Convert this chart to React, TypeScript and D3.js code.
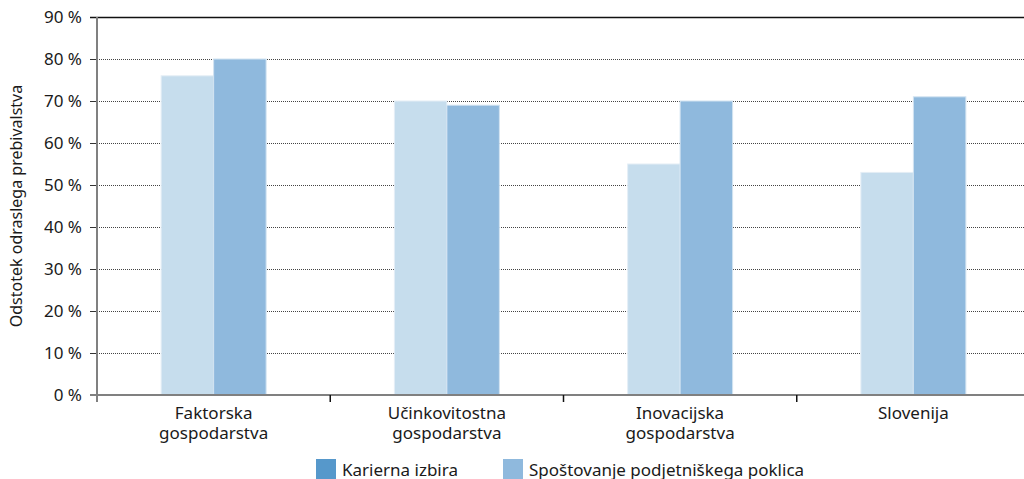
import React from "react";
import * as d3 from "d3";

const categories: string[][] = [
  ["Faktorska", "gospodarstva"],
  ["Učinkovitostna", "gospodarstva"],
  ["Inovacijska", "gospodarstva"],
  ["Slovenija"],
];
const seriesLight: number[] = [76, 70, 55, 53];
const seriesDark: number[] = [80, 69, 70, 71];
const yTicks: number[] = [0, 10, 20, 30, 40, 50, 60, 70, 80, 90];
const legendLabels: string[] = ["Karierna izbira", "Spoštovanje podjetniškega poklica"];
const legendColors: string[] = ["#5698CB", "#8FB9DD"];
const yTitle = "Odstotek odraslega prebivalstva";

const W = 1024;
const H = 479;
const left = 97;
const right = 1030;
const top = 17;
const bottom = 395;
const FONT = "'Noto Sans', 'Open Sans', sans-serif";

export default function App() {
  const x = d3.scaleBand<number>().domain(d3.range(categories.length)).range([left, right]);
  const y = d3.scaleLinear().domain([0, 90]).range([bottom, top]);
  const bw = x.bandwidth();
  const barW = bw * 0.225;

  return (
    <svg width={W} height={H} style={{ position: "absolute", left: 0, top: 0 }} fontFamily={FONT}>
      {/* gridlines */}
      {yTicks.map((t) => (
        <g key={t}>
          {t > 0 && t < 90 && (
            <line x1={left} x2={W} y1={y(t) + 0.5} y2={y(t) + 0.5} stroke="#444" strokeWidth={1} strokeDasharray="1,1" />
          )}
          <line x1={90} x2={left} y1={y(t) + 0.5} y2={y(t) + 0.5} stroke="#333" strokeWidth={1} />
          <text x={82} y={y(t)} dy="0.35em" textAnchor="end" fontSize={17} fill="#1a1a1a">
            {t} %
          </text>
        </g>
      ))}
      <line x1={90} x2={W} y1={y(90) + 0.5} y2={y(90) + 0.5} stroke="#111" strokeWidth={1.5} />
      {/* bars */}
      {categories.map((_, i) => {
        const cx = (x(i) as number) + bw / 2;
        return (
          <g key={i}>
            <rect x={cx - barW} y={y(seriesLight[i])} width={barW} height={bottom - y(seriesLight[i])} fill="#C6DDED" stroke="#E4EEF6" strokeWidth={1} />
            <rect x={cx} y={y(seriesDark[i])} width={barW} height={bottom - y(seriesDark[i])} fill="#8FB9DD" stroke="#D2E3F1" strokeWidth={1} />
          </g>
        );
      })}
      {/* axes */}
      <line x1={left} x2={left} y1={top} y2={bottom + 7} stroke="#808080" strokeWidth={2} />
      <line x1={90} x2={W} y1={bottom} y2={bottom} stroke="#808080" strokeWidth={2} />
      {categories.map((_, i) =>
        i > 0 ? (
          <line key={i} x1={(x(i) as number)} x2={(x(i) as number)} y1={bottom} y2={bottom + 7} stroke="#111" strokeWidth={1.5} />
        ) : null
      )}
      {categories.map((lines, i) => {
        const cx = (x(i) as number) + bw / 2;
        return (
          <g key={i}>
            {lines.map((l, j) => (
              <text key={j} x={cx} y={419 + j * 19.5} textAnchor="middle" fontSize={17} fill="#1a1a1a">
                {l}
              </text>
            ))}
          </g>
        );
      })}
      {/* y title */}
      <text transform={`translate(22, ${(top + bottom) / 2}) rotate(-90)`} textAnchor="middle" fontSize={16} fill="#1a1a1a">
        {yTitle}
      </text>
      {/* legend */}
      {legendLabels.map((l, i) => {
        const lx = i === 0 ? 316 : 503;
        return (
          <g key={l}>
            <rect x={lx} y={459} width={20} height={20} fill={legendColors[i]} />
            <text x={lx + 26} y={476} fontSize={17} fill="#1a1a1a">
              {l}
            </text>
          </g>
        );
      })}
    </svg>
  );
}
